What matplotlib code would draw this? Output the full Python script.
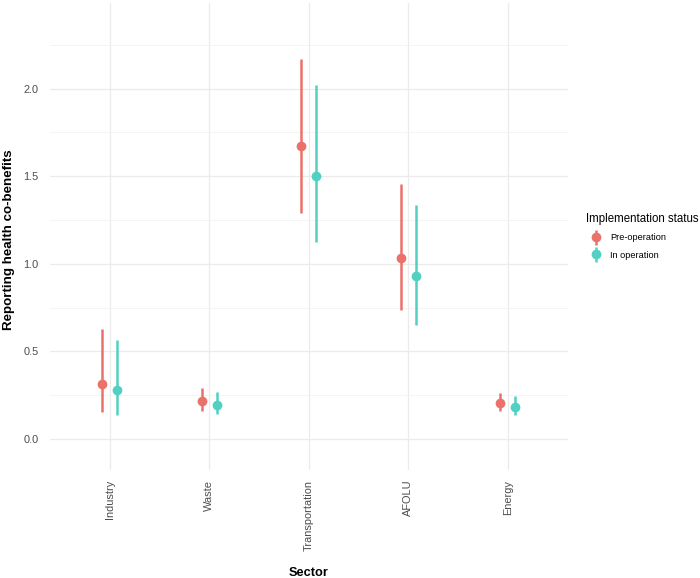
import matplotlib.pyplot as plt
import numpy as np
from matplotlib.ticker import MultipleLocator
from matplotlib.legend_handler import HandlerErrorbar
from matplotlib.container import ErrorbarContainer

plt.rcParams['font.family'] = ['Liberation Sans', 'DejaVu Sans']

# data
sectors = ['Industry', 'Waste', 'Transportation', 'AFOLU', 'Energy']
pre_est = [0.313, 0.215, 1.670, 1.036, 0.206]
pre_lo = [0.156, 0.158, 1.288, 0.737, 0.160]
pre_hi = [0.627, 0.290, 2.167, 1.455, 0.265]
op_est = [0.282, 0.193, 1.504, 0.933, 0.185]
op_lo = [0.139, 0.141, 1.122, 0.653, 0.139]
op_hi = [0.567, 0.267, 2.020, 1.333, 0.246]

col_pre = '#EC716B'
col_op = '#52D1C3'

fig = plt.figure(figsize=(7, 5.78), dpi=100)
ax = fig.add_axes([0.0714, 0.187, 0.7396, 0.808])

x = np.arange(1, len(sectors) + 1)
dodge = 0.075

def pointrange(xs, est, lo, hi, color, label):
    est = np.array(est)
    err = [est - np.array(lo), np.array(hi) - est]
    ax.errorbar(xs, est, yerr=err, fmt='o', color=color, ecolor=color,
                elinewidth=1.8, markersize=6, capsize=0, label=label, zorder=3)

pointrange(x - dodge, pre_est, pre_lo, pre_hi, col_pre, 'Pre-operation')
pointrange(x + dodge, op_est, op_lo, op_hi, col_op, 'In operation')

ax.set_xlim(0.4, 5.6)
ax.set_ylim(-0.177, 2.49)
ax.set_xticks(x)
ax.set_xticklabels(sectors, rotation=90, fontsize=7.9, color='#4D4D4D')
ax.yaxis.set_major_locator(MultipleLocator(0.5))
ax.yaxis.set_minor_locator(MultipleLocator(0.25))
ax.set_yticks([0, 0.5, 1.0, 1.5, 2.0])
ax.set_yticklabels(['0.0', '0.5', '1.0', '1.5', '2.0'], fontsize=7.9, color='#4D4D4D')
ax.tick_params(which='both', length=0, pad=7)
ax.tick_params(axis='y', pad=8)

ax.grid(True, which='major', color='#EBEBEB', linewidth=0.9)
ax.grid(True, which='minor', axis='y', color='#F2F2F2', linewidth=0.6)
ax.set_axisbelow(True)
for s in ax.spines.values():
    s.set_visible(False)

ax.set_xlabel('Sector', fontsize=9.2, fontweight='bold', labelpad=12)
ax.set_ylabel('Reporting health co-benefits', fontsize=9.6, fontweight='bold')
ax.yaxis.set_label_coords(-0.068, 0.4925)

leg = ax.legend(title='Implementation status', loc='center left',
                bbox_to_anchor=(0.826, 0.591), bbox_transform=fig.transFigure,
                frameon=False, fontsize=6.6, title_fontsize=8.3,
                handlelength=2.0, handletextpad=0.55, labelspacing=0.9,
                alignment='left',
                handler_map={ErrorbarContainer: HandlerErrorbar(yerr_size=0.8)})

fig.savefig('out.png', dpi=100)
